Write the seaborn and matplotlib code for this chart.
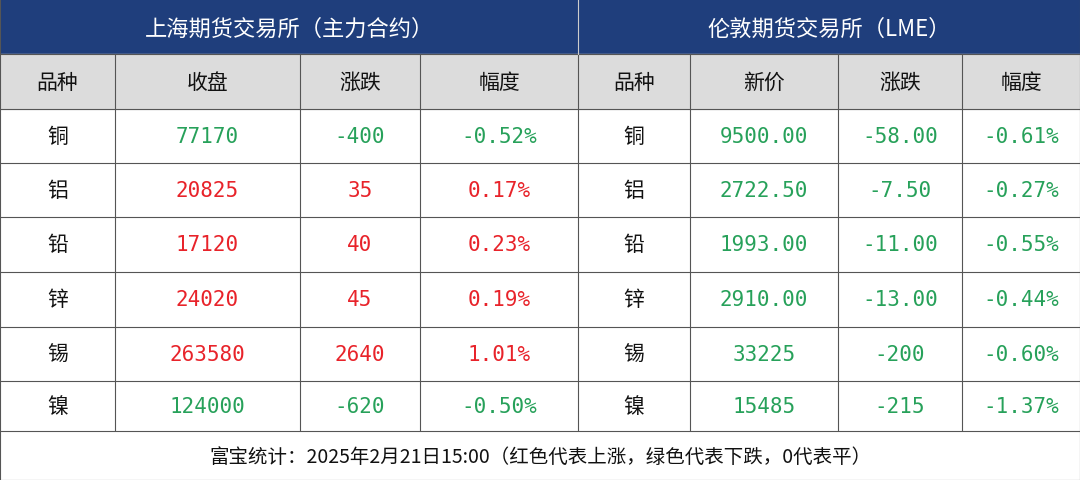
import matplotlib.pyplot as plt
import matplotlib.patches as mpatches
import seaborn as sns

# 数据
metals = ['铜', '铝', '铅', '锌', '锡', '镍']
shfe_close = ['77170', '20825', '17120', '24020', '263580', '124000']
shfe_chg = [-400, 35, 40, 45, 2640, -620]
shfe_pct = ['-0.52%', '0.17%', '0.23%', '0.19%', '1.01%', '-0.50%']
lme_price = ['9500.00', '2722.50', '1993.00', '2910.00', '33225', '15485']
lme_chg = ['-58.00', '-7.50', '-11.00', '-13.00', '-200', '-215']
lme_pct = ['-0.61%', '-0.27%', '-0.55%', '-0.44%', '-0.60%', '-1.37%']
col_titles = ['品种', '收盘', '涨跌', '幅度', '品种', '新价', '涨跌', '幅度']
footer = '富宝统计：2025年2月21日15:00（红色代表上涨，绿色代表下跌，0代表平）'

sns.set_theme(style='white', font='Noto Sans CJK SC')
RED, GREEN, BLUE = '#e8232a', '#27a15a', '#1f3e7c'
edges = [0, 115, 300, 420, 578, 690, 838, 962, 1080]
rows = [55, 110, 164, 218, 273, 328, 382, 432]

fig = plt.figure(figsize=(10.8, 4.81), dpi=100)
ax = fig.add_axes([0, 0, 1, 1])
ax.set_xlim(0, 1080)
ax.set_ylim(481, 0)
ax.axis('off')

ax.add_patch(mpatches.Rectangle((0, 0), 1080, 55, color=BLUE))
ax.add_patch(mpatches.Rectangle((0, 55), 1080, 55, color='#dcdcdc'))
ax.text(289, 29, '上海期货交易所（主力合约）', color='white', fontsize=16, ha='center', va='center')
ax.text(829, 29, '伦敦期货交易所（LME）', color='white', fontsize=16, ha='center', va='center')

lc = '#555555'
for y in rows + [481]:
    ax.plot([0, 1080], [y, y], color=lc, lw=0.8)
for x in edges:
    ax.plot([x, x], [55 if 0 < x < 1080 else 0, 432 if 0 < x < 1080 else 481], color=lc, lw=0.8)
ax.plot([578, 578], [0, 55], color='#cccccc', lw=0.8)

centers = [(edges[i] + edges[i + 1]) / 2 for i in range(8)]
for c, t in zip(centers, col_titles):
    ax.text(c, 83, t, fontsize=15, ha='center', va='center', color='#111111')

for i, m in enumerate(metals):
    yc = (rows[i + 1] + rows[i + 2]) / 2
    col = RED if shfe_chg[i] > 0 else GREEN
    vals = [(m, '#111111'), (shfe_close[i], col), (str(shfe_chg[i]), col), (shfe_pct[i], col),
            (m, '#111111'), (lme_price[i], GREEN), (lme_chg[i], GREEN), (lme_pct[i], GREEN)]
    for c, (t, cc) in zip(centers, vals):
        ax.text(c, yc, t, fontsize=15, ha='center', va='center', color=cc,
                family='Noto Sans CJK SC' if t == m else 'DejaVu Sans Mono')

ax.text(540, 457, footer, fontsize=14, ha='center', va='center', color='#111111')
fig.savefig('out.png', dpi=100)
